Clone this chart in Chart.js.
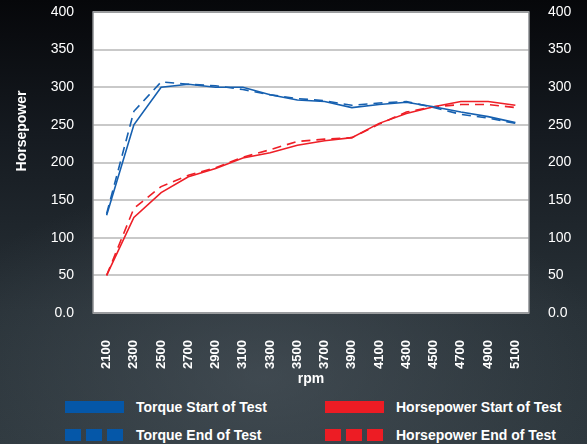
<!DOCTYPE html>
<html>
<head>
<meta charset="utf-8">
<script src="https://cdn.jsdelivr.net/npm/chart.js@4"></script>
<style>
  html, body { margin: 0; padding: 0; }
  body {
    width: 587px; height: 444px; overflow: hidden; position: relative;
    font-family: "Liberation Sans", Arial, sans-serif;
    background:
      radial-gradient(ellipse 60% 45% at 45% 85%, rgba(80,90,98,0.55) 0%, rgba(60,70,78,0) 100%),
      linear-gradient(#06070a 0%, #151a20 30%, #283137 70%, #2e383e 100%);
  }
  #wrap { position: absolute; left: 0; top: 0; width: 587px; height: 392px; }
  .leg { position: absolute; color: #fff; font-weight: bold; font-size: 14px; line-height: 16px; white-space: nowrap; }
  .box { position: absolute; height: 12px; }
  .sq { position: absolute; width: 16px; height: 12px; }
</style>
</head>
<body>
<div id="wrap"><canvas id="chart"></canvas></div>
<div id="legend"></div>
<script>
const rpm = ['2100', '2300', '2500', '2700', '2900', '3100', '3300', '3500',
             '3700', '3900', '4100', '4300', '4500', '4700', '4900', '5100'];
const torqueStart = [130, 250, 300, 304, 300, 300, 290, 283, 281, 273, 277, 280, 274, 267, 261, 253];
const torqueEnd   = [132, 268, 307, 304, 302, 297, 290, 285, 282, 276, 279, 281, 273, 264, 259, 252];
const hpStart     = [50, 127, 160, 181, 192, 206, 213, 223, 229, 233, 252, 265, 274, 281, 281, 276];
const hpEnd       = [50, 139, 168, 183, 193, 207, 217, 228, 231, 233, 251, 267, 274, 277, 277, 273];
const yTickLabels = ['0.0', '50', '100', '150', '200', '250', '300', '350', '400'];
const seriesNames = ['Torque Start of Test', 'Horsepower Start of Test', 'Torque End of Test', 'Horsepower End of Test'];
const yTitle = 'Horsepower';
const xTitle = 'rpm';

const BLUE = '#1660b0';
const RED = '#ee1f27';
const LEG_BLUE = '#0557a8';
const LEG_RED = '#ed1c24';
const FONT = '"Liberation Sans", Arial, sans-serif';

// fond blanc de la zone de tracé + bordure + titre vertical
const plotFrame = {
  id: 'plotFrame',
  beforeDraw(chart) {
    const { ctx, chartArea: a } = chart;
    ctx.save();
    ctx.fillStyle = '#ffffff';
    ctx.fillRect(a.left, a.top, a.right - a.left, a.bottom - a.top);
    ctx.restore();
  },
  afterDraw(chart) {
    const { ctx, chartArea: a } = chart;
    ctx.save();
    ctx.strokeStyle = '#8a8d90';
    ctx.lineWidth = 1.5;
    ctx.strokeRect(a.left, a.top, a.right - a.left, a.bottom - a.top);
    ctx.translate(22, 131);
    ctx.rotate(-Math.PI / 2);
    ctx.fillStyle = '#ffffff';
    ctx.font = 'bold 14px ' + FONT;
    ctx.textAlign = 'center';
    ctx.textBaseline = 'middle';
    ctx.fillText(yTitle, 0, 0);
    ctx.restore();
  }
};

const tickFont = { family: FONT, size: 14 };

function fitY(width) {
  return (scale) => {
    scale.width = width;
    scale.paddingTop = 8;
    scale.paddingBottom = 8;
  };
}

new Chart(document.getElementById('chart'), {
  type: 'line',
  data: {
    labels: rpm,
    datasets: [
      { label: seriesNames[0], data: torqueStart, borderColor: BLUE, borderWidth: 1.6, pointRadius: 0, tension: 0 },
      { label: seriesNames[1], data: hpStart, borderColor: RED, borderWidth: 1.6, pointRadius: 0, tension: 0 },
      { label: seriesNames[2], data: torqueEnd, borderColor: BLUE, borderWidth: 1.6, borderDash: [9, 6], pointRadius: 0, tension: 0 },
      { label: seriesNames[3], data: hpEnd, borderColor: RED, borderWidth: 1.6, borderDash: [9, 6], pointRadius: 0, tension: 0 }
    ]
  },
  options: {
    responsive: true,
    maintainAspectRatio: false,
    animation: false,
    layout: { padding: { top: 12, left: 0, right: 0, bottom: 0 } },
    plugins: { legend: { display: false }, tooltip: { enabled: false } },
    scales: {
      x: {
        offset: true,
        grid: { display: false, drawTicks: false },
        border: { display: false },
        ticks: {
          color: '#ffffff', font: { family: FONT, size: 13, weight: 'bold' },
          minRotation: 90, maxRotation: 90, autoSkip: false, padding: 27
        },
        title: {
          display: true, text: xTitle, color: '#ffffff',
          font: { family: FONT, size: 14, weight: 'bold' }, padding: { top: 0, bottom: 4 }
        },
        afterFit(scale) { scale.height = 79; }
      },
      y: {
        position: 'left',
        min: 0, max: 400,
        grid: { color: '#c9c9c9', lineWidth: 2, drawTicks: false },
        border: { display: false },
        ticks: {
          stepSize: 50, color: '#ffffff', font: tickFont, padding: 19,
          callback: (v) => yTickLabels[v / 50]
        },
        afterFit: fitY(93)
      },
      y2: {
        position: 'right',
        min: 0, max: 400,
        grid: { display: false, drawTicks: false },
        border: { display: false },
        ticks: {
          stepSize: 50, color: '#ffffff', font: tickFont, padding: 19,
          callback: (v) => yTickLabels[v / 50]
        },
        afterFit: fitY(58)
      }
    }
  },
  plugins: [plotFrame]
});

// légende HTML (trait plein / pointillé)
const legend = document.getElementById('legend');
const legItems = [
  { name: seriesNames[0], color: LEG_BLUE, dashed: false, x: 65, y: 401 },
  { name: seriesNames[1], color: LEG_RED, dashed: false, x: 325, y: 401 },
  { name: seriesNames[2], color: LEG_BLUE, dashed: true, x: 65, y: 429 },
  { name: seriesNames[3], color: LEG_RED, dashed: true, x: 325, y: 429 }
];
legItems.forEach(it => {
  if (it.dashed) {
    [0, 21, 42].forEach(dx => {
      const s = document.createElement('div');
      s.className = 'sq';
      s.style.left = (it.x + dx) + 'px';
      s.style.top = it.y + 'px';
      s.style.background = it.color;
      legend.appendChild(s);
    });
  } else {
    const b = document.createElement('div');
    b.className = 'box';
    b.style.left = it.x + 'px';
    b.style.top = it.y + 'px';
    b.style.width = '59px';
    b.style.background = it.color;
    legend.appendChild(b);
  }
  const t = document.createElement('div');
  t.className = 'leg';
  t.textContent = it.name;
  t.style.left = (it.x + 71) + 'px';
  t.style.top = (it.y - 2) + 'px';
  legend.appendChild(t);
});
</script>
</body>
</html>
